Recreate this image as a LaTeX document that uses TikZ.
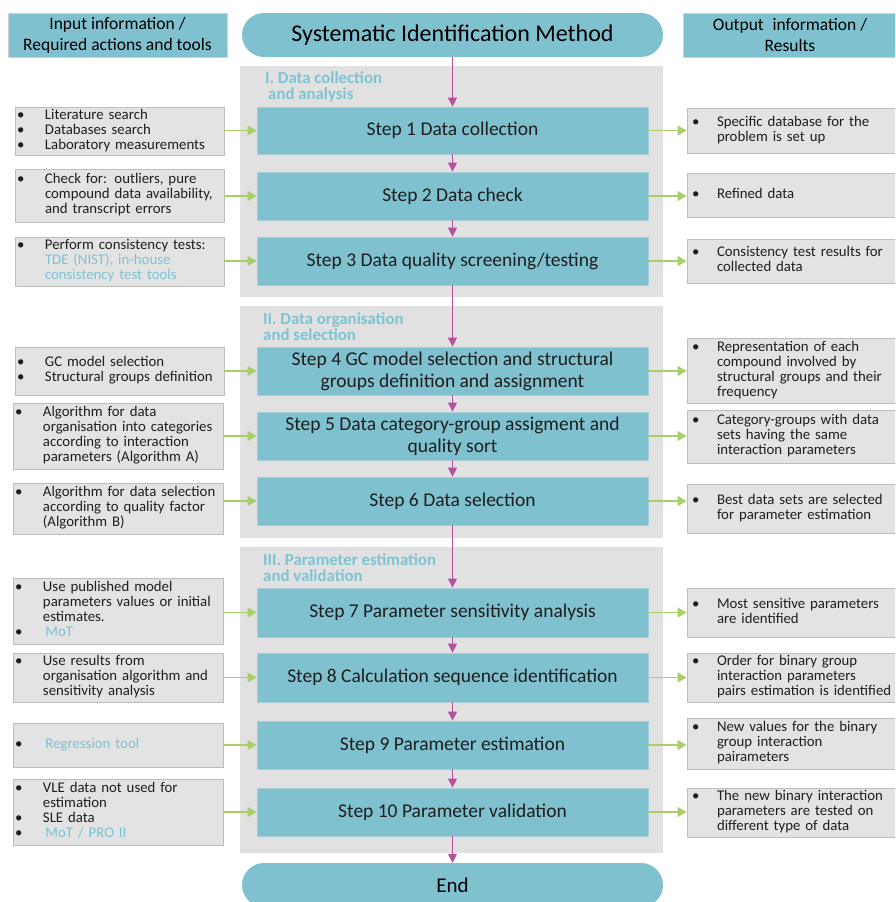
\documentclass[tikz,border=0pt]{standalone}
\usepackage{fontspec}
\setmainfont{Carlito}
\usetikzlibrary{arrows.meta}
\definecolor{stepfill}{HTML}{80C1CF}
\definecolor{stepline}{HTML}{A9CDD6}
\definecolor{panelgray}{HTML}{E1E1E1}
\definecolor{boxgray}{HTML}{E3E3E3}
\definecolor{boxline}{HTML}{BDBDBD}
\definecolor{arrgreen}{HTML}{A9CF6A}
\definecolor{arrmag}{HTML}{B5519B}
\definecolor{lblue}{HTML}{7CC3D3}
\definecolor{txt}{HTML}{1E1E1E}
\newcommand{\lblist}[1]{\begin{tabular}{@{}p{28pt}@{}l@{}}#1\end{tabular}}
\newcommand{\rblist}[1]{\begin{tabular}{@{}p{25pt}@{}l@{}}#1\end{tabular}}
\newcommand{\hl}[1]{\textcolor{lblue}{#1}}
\tikzset{
  panel/.style={fill=panelgray, draw=none, anchor=north west, inner sep=0pt},
  stepbox/.style={fill=stepfill, draw=stepline, line width=0.8pt, minimum width=391pt, text=txt, font=\fontsize{19.5}{22}\selectfont, align=center, inner sep=0pt},
  headbox/.style={fill=stepfill, draw=boxline!70, line width=0.8pt, minimum height=44pt, text=black, font=\fontsize{17.5}{21}\selectfont, align=center, inner sep=0pt},
  stadium/.style={fill=stepfill, draw=none, rounded corners=22pt, minimum width=421pt, minimum height=44pt, text=black, inner sep=0pt},
  lbox/.style={fill=boxgray, draw=boxline, line width=0.8pt, text=txt, font=\fontsize{14.8}{15}\selectfont, align=left, inner xsep=2pt, inner ysep=0pt},
  rbox/.style={fill=boxgray, draw=boxline, line width=0.8pt, text=txt, font=\fontsize{14.8}{15}\selectfont, align=left, inner xsep=5pt, inner ysep=0pt},
  plabel/.style={anchor=north west, text=lblue, font=\bfseries\fontsize{16.8}{16}\selectfont, align=left, inner sep=0pt},
  garrow/.style={draw=arrgreen, line width=1.3pt, -{Triangle[length=9pt,width=10pt]}},
  marrow/.style={draw=arrmag, line width=1.3pt, -{Triangle[length=9pt,width=9pt]}}
}
\begin{document}
\begin{tikzpicture}[x=1pt,y=-1pt]
\useasboundingbox (0,0) rectangle (895,902);
\clip (0,0) rectangle (895,902);
% panels
\node[panel, minimum width=423pt, minimum height=231pt] (p1) at (240,66) {};
\node[panel, minimum width=423pt, minimum height=232pt] (p2) at (240,306) {};
\node[panel, minimum width=423pt, minimum height=306pt] (p3) at (240,547) {};
\node[plabel] (pl1) at (265,71) {I. Data collection\\\hspace*{3pt}and analysis};
\node[plabel] (pl2) at (263,312) {II. Data organisation\\and selection};
\node[plabel] (pl3) at (263,553) {III. Parameter estimation\\and validation};
% headers
\node[headbox, minimum width=219pt] (hl) at (117.5,35) {Input information /\\Required actions and tools};
\node[stadium, font=\fontsize{24}{28}\selectfont] (title) at (452.5,35) {Systematic Identification Method};
\node[headbox, minimum width=214pt] (hr) at (790,35) {Output\enspace information /\\Results};
\node[stadium, font=\fontsize{21}{25}\selectfont] (end) at (452.5,885) {End};
% steps
\node[stepbox, minimum height=47pt] (s1) at (452.5,130.5) {Step 1 Data collection};
\node[stepbox, minimum height=48pt] (s2) at (452.5,196) {Step 2 Data check};
\node[stepbox, minimum height=48pt] (s3) at (452.5,261) {Step 3 Data quality screening/testing};
\node[stepbox, minimum height=48pt] (s4) at (452.5,371) {Step 4 GC model selection and structural\\groups definition and assignment};
\node[stepbox, minimum height=48pt] (s5) at (452.5,436) {Step 5 Data category-group assigment and\\quality sort};
\node[stepbox, minimum height=48pt] (s6) at (452.5,501) {Step 6 Data selection};
\node[stepbox, minimum height=49pt] (s7) at (452.5,612.5) {Step 7 Parameter sensitivity analysis};
\node[stepbox, minimum height=49pt] (s8) at (452.5,677.5) {Step 8 Calculation sequence identification};
\node[stepbox, minimum height=48pt] (s9) at (452.5,745) {Step 9 Parameter estimation};
\node[stepbox, minimum height=48pt] (s10) at (452.5,812) {Step 10 Parameter validation};
% left boxes
\node[lbox, text width=205pt, minimum height=48pt] (l1) at (119.5,131) {\lblist{• & Literature search\\ • & Databases search\\ • & Laboratory measurements}};
\node[lbox, text width=205pt, minimum height=53pt] (l2) at (119.5,195.5) {\lblist{• & Check for: outliers, pure\\ & compound data availability,\\ & and transcript errors}};
\node[lbox, text width=205pt, minimum height=49pt] (l3) at (119.5,261.5) {\lblist{• & Perform consistency tests:\\ & \hl{TDE (NIST), in-house}\\ & \hl{consistency test tools}}};
\node[lbox, text width=205pt, minimum height=48pt] (l4) at (119.5,371) {\lblist{• & GC model selection\\ • & Structural groups definition}};
\node[lbox, text width=206pt, minimum height=66pt] (l5) at (118,436) {\lblist{• & Algorithm for data\\ & organisation into categories\\ & according to interaction\\ & parameters (Algorithm A)}};
\node[lbox, text width=206pt, minimum height=51pt] (l6) at (118,508.5) {\lblist{• & Algorithm for data selection\\ & according to quality factor\\ & (Algorithm B)}};
\node[lbox, text width=206pt, minimum height=66pt] (l7) at (118,611) {\lblist{• & Use published model\\ & parameters values or initial\\ & estimates.\\ • & \hl{\,MoT}}};
\node[lbox, text width=206pt, minimum height=49pt] (l8) at (118,677.5) {\lblist{• & Use results from\\ & organisation algorithm and\\ & sensitivity analysis}};
\node[lbox, text width=206pt, minimum height=44pt] (l9) at (118,745) {\lblist{• & \hl{\,Regression tool}}};
\node[lbox, text width=206pt, minimum height=66pt] (l10) at (118,812) {\lblist{• & VLE data not used for\\ & estimation\\ • & SLE data\\ • & \hl{\,MoT / PRO II}}};
% right boxes
\node[rbox, text width=200pt, minimum height=45pt] (r1) at (792,130.5) {\rblist{• & Specific database for the\\ & problem is set up}};
\node[rbox, text width=200pt, minimum height=44pt] (r2) at (792,195) {\rblist{• & Refined data}};
\node[rbox, text width=200pt, minimum height=44pt] (r3) at (792,261) {\rblist{• & Consistency test results for\\ & collected data}};
\node[rbox, text width=200pt, minimum height=65pt] (r4) at (792,370.5) {\rblist{• & Representation of each\\ & compound involved by\\ & structural groups and their\\ & frequency}};
\node[rbox, text width=200pt, minimum height=53pt] (r5) at (792,436.5) {\rblist{• & Category-groups with data\\ & sets having the same\\ & interaction parameters}};
\node[rbox, text width=200pt, minimum height=49pt] (r6) at (792,508.5) {\rblist{• & Best data sets are selected\\ & for parameter estimation}};
\node[rbox, text width=200pt, minimum height=49pt] (r7) at (792,612.5) {\rblist{• & Most sensitive parameters\\ & are identified}};
\node[rbox, text width=200pt, minimum height=49pt] (r8) at (792,677.5) {\rblist{• & Order for binary group\\ & interaction parameters\\ & pairs estimation is identified}};
\node[rbox, text width=200pt, minimum height=51pt] (r9) at (792,743.5) {\rblist{• & New values for the binary\\ & group interaction\\ & pairameters}};
\node[rbox, text width=200pt, minimum height=49pt] (r10) at (792,812.5) {\rblist{• & The new binary interaction\\ & parameters are tested on\\ & different type of data}};
% magenta flow
\draw[marrow] (title) -- (s1);
\draw[marrow] (s1) -- (s2);
\draw[marrow] (s2) -- (s3);
\draw[marrow] (s3) -- (s4);
\draw[marrow] (s4) -- (s5);
\draw[marrow] (s5) -- (s6);
\draw[marrow] (s6) -- (s7);
\draw[marrow] (s7) -- (s8);
\draw[marrow] (s8) -- (s9);
\draw[marrow] (s9) -- (s10);
\draw[marrow] (s10) -- (end);
% green arrows
\foreach \i in {1,...,10}{
  \draw[garrow] (l\i.east |- s\i.west) -- (s\i.west);
  \draw[garrow] (s\i.east) -- (r\i.west |- s\i.east);
}
\end{tikzpicture}
\end{document}
